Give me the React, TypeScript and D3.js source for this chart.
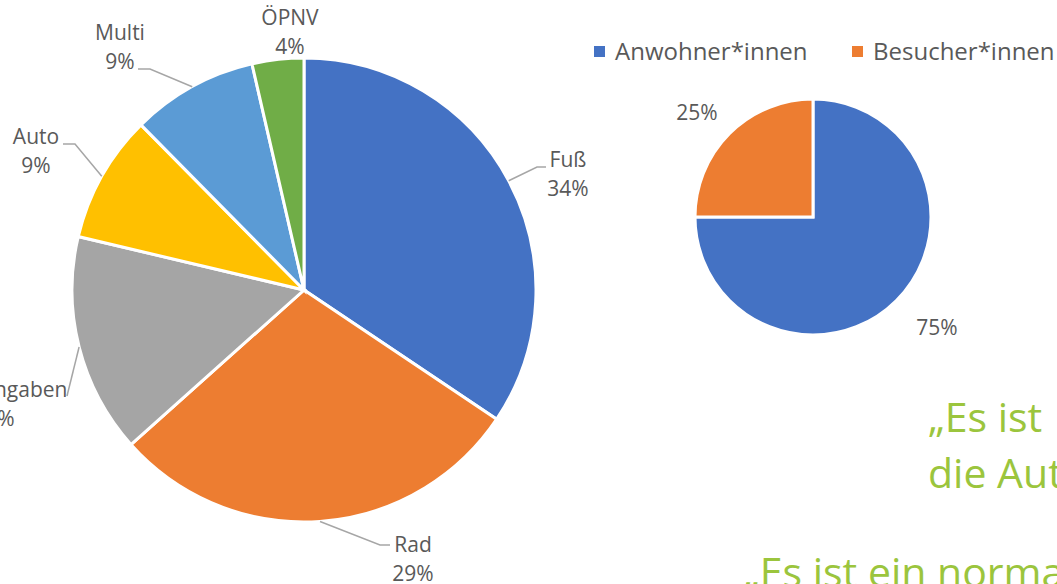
import React, { useEffect, useRef } from 'react';
import * as d3 from 'd3';

// mode of transport (left pie)
const modeNames = ['Fuß', 'Rad', 'Keine Angaben', 'Auto', 'Multi', 'ÖPNV'];
const modeShares = [34.4, 29.0, 15.3, 8.9, 8.8, 3.6];
const modeColors = ['#4472C4', '#ED7D31', '#A5A5A5', '#FFC000', '#5B9BD5', '#70AD47'];

// residents vs visitors (right pie)
const groupNames = ['Anwohner*innen', 'Besucher*innen'];
const groupShares = [75, 25];
const groupColors = ['#4472C4', '#ED7D31'];

const quoteLines = ['„Es ist', 'die Auto', '„Es ist ein normal'];

// label placement for the left pie: [textX, nameBaseline, elbowX, elbowY, endX, endY] (layout only)
const modeLabelPos: any = {
  'Fuß': { x: 568, y: 167, leader: [[537, 167], [546, 167]] },
  'Rad': { x: 413, y: 552, leader: [[380, 545], [390, 545]] },
  'Keine Angaben': { x: -6, y: 397, leader: [[67, 396]] },
  'Auto': { x: 36, y: 144, leader: [[75, 144], [63, 144]] },
  'Multi': { x: 120, y: 40, leader: [[150, 69], [138, 69]] },
  'ÖPNV': { x: 290, y: 25, leader: null },
};

const FONT = '"Open Sans", sans-serif';
const TEXT = '#595959';

export default function App() {
  const svgRef = useRef<SVGSVGElement>(null);

  useEffect(() => {
    const svg = d3.select(svgRef.current);
    svg.selectAll('*').remove();

    // ---- left pie ----
    const cx = 304, cy = 290, r = 232;
    const pie = d3.pie<number>().sort(null).value(d => d);
    const arcs = pie(modeShares);
    const arc = d3.arc<any>().innerRadius(0).outerRadius(r);
    const outer = d3.arc<any>().innerRadius(r).outerRadius(r);

    const g = svg.append('g').attr('transform', `translate(${cx},${cy})`);
    g.selectAll('path')
      .data(arcs)
      .enter()
      .append('path')
      .attr('d', arc)
      .style('fill', (d, i) => modeColors[i])
      .style('stroke', 'white')
      .style('stroke-width', 3);

    const total = d3.sum(modeShares);
    arcs.forEach((d, i) => {
      const name = modeNames[i];
      const pos = modeLabelPos[name];
      if (pos.leader) {
        const [sx, sy] = outer.centroid(d);
        const pts = [[cx + sx, cy + sy], ...pos.leader];
        svg.append('path')
          .attr('d', d3.line()(pts as any))
          .style('fill', 'none')
          .style('stroke', '#A6A6A6')
          .style('stroke-width', 1.5);
      }
      const t = svg.append('text')
        .attr('text-anchor', 'middle')
        .style('font-family', FONT)
        .style('font-size', '21px')
        .style('fill', TEXT);
      t.append('tspan').attr('x', pos.x).attr('y', pos.y).text(name);
      t.append('tspan').attr('x', pos.x).attr('y', pos.y + 29)
        .text(Math.round(modeShares[i] / total * 100) + '%');
    });

    // ---- right pie ----
    const rcx = 813, rcy = 217, rr = 118;
    const rArcs = pie(groupShares);
    const rArc = d3.arc<any>().innerRadius(0).outerRadius(rr);
    const rg = svg.append('g').attr('transform', `translate(${rcx},${rcy})`);
    rg.selectAll('path')
      .data(rArcs)
      .enter()
      .append('path')
      .attr('d', rArc)
      .style('fill', (d, i) => groupColors[i])
      .style('stroke', 'white')
      .style('stroke-width', 3);

    const rLabelPos = [[937, 335], [697, 120]];
    rArcs.forEach((d, i) => {
      svg.append('text')
        .attr('x', rLabelPos[i][0])
        .attr('y', rLabelPos[i][1])
        .attr('text-anchor', 'middle')
        .style('font-family', FONT)
        .style('font-size', '21px')
        .style('fill', TEXT)
        .text(groupShares[i] + '%');
    });

    // legend
    const legendX = [594, 852];
    groupNames.forEach((n, i) => {
      svg.append('rect')
        .attr('x', legendX[i]).attr('y', 46)
        .attr('width', 11).attr('height', 11)
        .style('fill', groupColors[i]);
      svg.append('text')
        .attr('x', legendX[i] + 21).attr('y', 60)
        .style('font-family', FONT)
        .style('font-size', '24px')
        .style('fill', TEXT)
        .text(n);
    });

    // quote text on the slide
    const quotePos = [[928, 432], [928, 488], [743, 587]];
    quoteLines.forEach((q, i) => {
      svg.append('text')
        .attr('x', quotePos[i][0]).attr('y', quotePos[i][1])
        .style('font-family', FONT)
        .style('font-size', '41px')
        .style('fill', '#9BC53D')
        .text(q);
    });
  }, []);

  return (
    <svg ref={svgRef} width={1057} height={584}
      style={{ position: 'absolute', left: 0, top: 0, background: 'white', overflow: 'hidden' }} />
  );
}
